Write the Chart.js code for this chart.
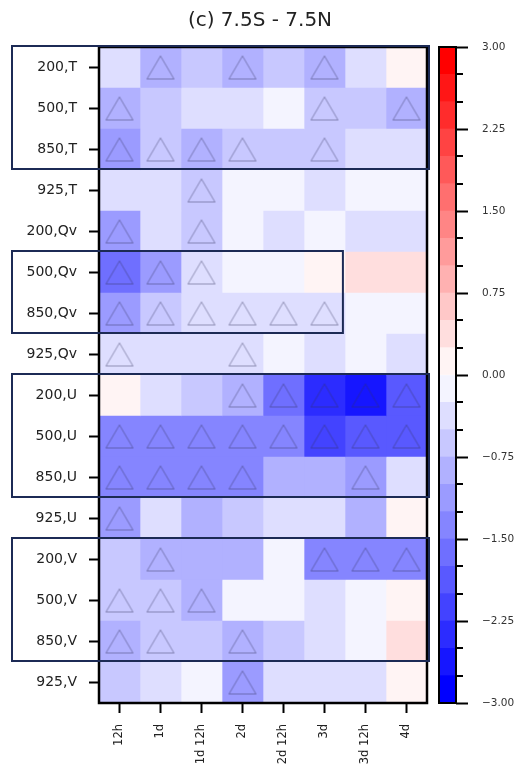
<!DOCTYPE html>
<html lang="en">
<head>
<meta charset="UTF-8">
<title>(c) 7.5S - 7.5N</title>
<script src="https://cdn.jsdelivr.net/npm/chart.js"></script>
<style>
  html, body { margin: 0; padding: 0; background: #fff; }
  .wrap { position: relative; width: 529px; height: 768px; overflow: hidden; }
  #heat { position: absolute; left: 0; top: 0; }
  #cbar { position: absolute; left: 420px; top: 0; }
  .title {
    position: absolute; left: 0; top: 6px; width: 520px;
    text-align: center; font: 20px 'DejaVu Sans', sans-serif; color: #222;
    line-height: 26px;
  }
</style>
</head>
<body>
<div class="wrap">
  <canvas id="heat" width="529" height="768"></canvas>
  <canvas id="cbar" width="109" height="768"></canvas>
  <div class="title">(c) 7.5S - 7.5N</div>
</div>
<script>
// rows (level,variable) and lead times
const rows = ["200,T", "500,T", "850,T", "925,T",
              "200,Qv", "500,Qv", "850,Qv", "925,Qv",
              "200,U", "500,U", "850,U", "925,U",
              "200,V", "500,V", "850,V", "925,V"];
const cols = ["12h", "1d", "1d 12h", "2d", "2d 12h", "3d", "3d 12h", "4d"];

// values per variable, levels 200/500/850/925
const valsT = [
  [-0.4, -0.85, -0.6, -0.85, -0.6, -0.85, -0.4, 0.1],
  [-0.9, -0.6, -0.4, -0.4, -0.1, -0.7, -0.6, -1.0],
  [-1.2, -0.65, -0.95, -0.65, -0.65, -0.65, -0.4, -0.4],
  [-0.35, -0.35, -0.6, -0.1, -0.1, -0.35, -0.1, -0.1]
];
const valsQv = [
  [-1.1, -0.4, -0.6, -0.1, -0.35, -0.1, -0.4, -0.4],
  [-1.6, -1.05, -0.4, -0.1, -0.1, 0.1, 0.35, 0.35],
  [-1.1, -0.65, -0.35, -0.35, -0.35, -0.35, -0.1, -0.1],
  [-0.4, -0.4, -0.4, -0.4, -0.1, -0.35, -0.1, -0.35]
];
const valsU = [
  [0.1, -0.35, -0.6, -0.95, -1.6, -2.4, -2.7, -1.9],
  [-1.45, -1.3, -1.3, -1.45, -1.4, -2.1, -2.0, -1.8],
  [-1.3, -1.3, -1.3, -1.3, -0.9, -0.9, -1.1, -0.4],
  [-1.2, -0.4, -0.9, -0.65, -0.4, -0.4, -0.95, 0.1]
];
const valsV = [
  [-0.65, -0.95, -0.9, -0.95, -0.1, -1.3, -1.45, -1.35],
  [-0.6, -0.6, -0.9, -0.1, -0.1, -0.35, -0.1, 0.1],
  [-0.9, -0.65, -0.65, -0.9, -0.6, -0.35, -0.1, 0.35],
  [-0.6, -0.35, -0.1, -1.1, -0.35, -0.35, -0.35, 0.1]
];

// significance markers (triangles)
const sigT  = [[0,1,0,1,0,1,0,0],[1,0,0,0,0,1,0,1],[1,1,1,1,0,1,0,0],[0,0,1,0,0,0,0,0]];
const sigQv = [[1,0,1,0,0,0,0,0],[1,1,1,0,0,0,0,0],[1,1,1,1,1,1,0,0],[1,0,0,1,0,0,0,0]];
const sigU  = [[0,0,0,1,1,1,1,1],[1,1,1,1,1,1,1,1],[1,1,1,1,0,0,1,0],[1,0,0,0,0,0,0,0]];
const sigV  = [[0,1,0,0,0,1,1,1],[1,1,1,0,0,0,0,0],[1,1,0,1,0,0,0,0],[0,0,0,1,0,0,0,0]];

// colour levels and labelled colorbar ticks
const levels = [-3, -2.75, -2.5, -2.25, -2, -1.75, -1.5, -1.25, -1, -0.75, -0.5, -0.25, 0,
                0.25, 0.5, 0.75, 1, 1.25, 1.5, 1.75, 2, 2.25, 2.5, 2.75, 3];
const cbarTicks = [-3, -2.25, -1.5, -0.75, 0, 0.75, 1.5, 2.25, 3];

// outlined groups of rows
const boxFrom = ["200,T", "500,Qv", "200,U", "200,V"];
const boxTo   = ["850,T", "850,Qv", "850,U", "850,V"];
const boxEnd  = [8, 5.9, 8, 8];

const values = [...valsT, ...valsQv, ...valsU, ...valsV];
const sig = [...sigT, ...sigQv, ...sigU, ...sigV];

Chart.defaults.font.family = "'DejaVu Sans', sans-serif";

// discrete bwr colormap
function binColor(k) {
  const t = k / (levels.length - 2);
  let r, g, b;
  if (t < 0.5) { r = g = Math.round(510 * t); b = 255; }
  else { r = 255; g = b = Math.round(510 * (1 - t)); }
  return `rgb(${r},${g},${b})`;
}
function colorFor(v) {
  let k = 0;
  while (k < levels.length - 2 && v >= levels[k + 1]) k++;
  return binColor(k);
}

function triangleIcon() {
  const c = document.createElement("canvas");
  c.width = 30; c.height = 26;
  const g = c.getContext("2d");
  g.strokeStyle = "rgba(50,50,90,0.45)";
  g.lineWidth = 1;
  g.beginPath();
  g.moveTo(15, 1.5); g.lineTo(28.5, 24.5); g.lineTo(1.5, 24.5); g.closePath();
  g.stroke();
  return c;
}

const heatSets = cols.map((c, ci) => ({
  type: "bar",
  grouped: false,
  data: rows.map(r => ({ x: [ci, ci + 1], y: r })),
  backgroundColor: rows.map((r, ri) => colorFor(values[ri][ci])),
  borderWidth: 0,
  barPercentage: 1,
  categoryPercentage: 1,
  order: 2
}));

const triPoints = [];
rows.forEach((r, ri) => cols.forEach((c, ci) => {
  if (sig[ri][ci]) triPoints.push({ x: ci + 0.5, y: r });
}));

const framePlugin = {
  id: "frame",
  afterDatasetsDraw(chart) {
    const { ctx, chartArea: a, scales: { x, y } } = chart;
    ctx.save();
    ctx.strokeStyle = "#000";
    ctx.lineWidth = 2.5;
    ctx.strokeRect(a.left, a.top, a.right - a.left, a.bottom - a.top);
    const half = (y.getPixelForValue(1) - y.getPixelForValue(0)) / 2;
    ctx.strokeStyle = "#1c2a55";
    ctx.lineWidth = 2;
    boxFrom.forEach((f, i) => {
      const top = y.getPixelForValue(rows.indexOf(f)) - half - 1;
      const bot = y.getPixelForValue(rows.indexOf(boxTo[i])) + half - 1;
      const left = a.left - 87;
      const right = x.getPixelForValue(boxEnd[i]) + 2;
      ctx.strokeRect(left, top, right - left, bot - top);
    });
    ctx.restore();
  }
};

new Chart(document.getElementById("heat"), {
  type: "bar",
  data: {
    labels: rows,
    datasets: [
      {
        type: "scatter",
        data: triPoints,
        pointStyle: triangleIcon(),
        pointRadius: 13,
        order: 0
      },
      ...heatSets
    ]
  },
  options: {
    indexAxis: "y",
    responsive: false,
    animation: false,
    layout: { padding: { left: 0, right: 102, top: 47, bottom: 0 } },
    plugins: {
      legend: { display: false },
      tooltip: { enabled: false },
      title: { display: false }
    },
    scales: {
      x: {
        type: "linear",
        min: 0, max: 8,
        position: "bottom",
        afterBuildTicks: s => { s.ticks = cols.map((c, i) => ({ value: i + 0.5 })); },
        afterFit: s => { s.height = 65; },
        ticks: {
          callback: (v, i) => cols[i],
          autoSkip: false,
          minRotation: 90, maxRotation: 90,
          padding: 11,
          color: "#222",
          font: { size: 11.5 }
        },
        grid: { drawOnChartArea: false, tickLength: 10, tickWidth: 2, tickColor: "#000" },
        border: { display: false }
      },
      y: {
        type: "category",
        labels: rows,
        offset: true,
        afterFit: s => { s.width = 99; },
        ticks: { padding: 12, color: "#222", font: { size: 14 } },
        grid: { drawOnChartArea: false, offset: false, tickLength: 10, tickWidth: 2, tickColor: "#000" },
        border: { display: false }
      }
    }
  },
  plugins: [framePlugin]
});

// colorbar
const cbarFrame = {
  id: "cbarFrame",
  afterDraw(chart) {
    const { ctx, chartArea: a, scales: { y } } = chart;
    ctx.save();
    ctx.strokeStyle = "#000";
    ctx.lineWidth = 2;
    ctx.strokeRect(a.left, a.top, a.right - a.left, a.bottom - a.top);
    levels.forEach(v => {
      if (cbarTicks.includes(v)) return;
      const py = Math.round(y.getPixelForValue(v));
      ctx.beginPath();
      ctx.moveTo(a.right, py);
      ctx.lineTo(a.right + 7, py);
      ctx.stroke();
    });
    ctx.restore();
  }
};

new Chart(document.getElementById("cbar"), {
  type: "bar",
  data: {
    labels: [""],
    datasets: levels.slice(0, -1).map((lo, k) => ({
      data: [[lo, levels[k + 1]]],
      backgroundColor: binColor(k),
      borderWidth: 0,
      grouped: false,
      barPercentage: 1,
      categoryPercentage: 1
    }))
  },
  options: {
    responsive: false,
    animation: false,
    layout: { padding: { left: 19, top: 47, bottom: 65, right: 0 } },
    plugins: { legend: { display: false }, tooltip: { enabled: false } },
    scales: {
      x: { display: false },
      y: {
        position: "right",
        min: -3, max: 3,
        afterBuildTicks: s => { s.ticks = cbarTicks.map(v => ({ value: v })); },
        afterFit: s => { s.width = 73; },
        ticks: {
          callback: v => (v < 0 ? "\u2212" : "") + Math.abs(v).toFixed(2),
          padding: 14,
          color: "#333",
          font: { size: 10.5 }
        },
        grid: { drawOnChartArea: false, tickLength: 12, tickWidth: 2, tickColor: "#000" },
        border: { display: false }
      }
    }
  },
  plugins: [cbarFrame]
});
</script>
</body>
</html>
